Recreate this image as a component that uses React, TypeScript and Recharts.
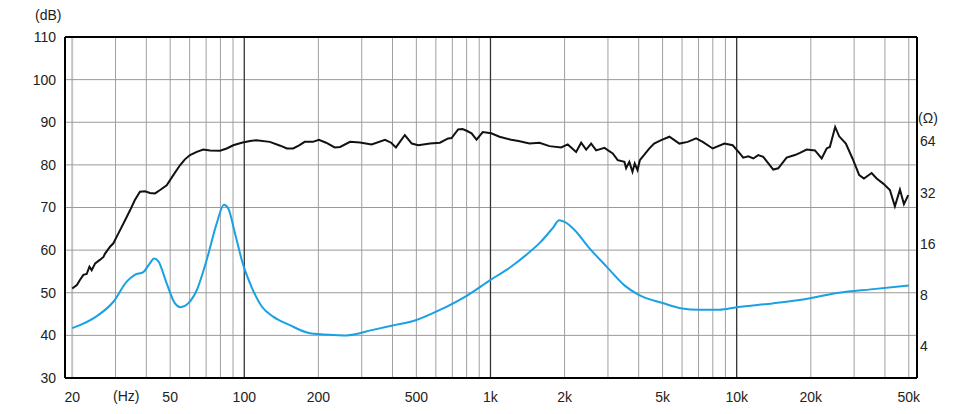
import React from "react";
import { LineChart, Line, XAxis, YAxis, ReferenceLine } from "recharts";

// frequency response (dB)
const SPL_FREQ = [
  20, 20.9, 21.5, 22.2, 22.9, 23.5, 24, 24.8, 25.9, 26.8, 27.2, 28.5, 29.4, 30.3, 31.3, 32.8, 34.4, 35.9, 37.7,
  39.5, 41.4, 43.4, 45.5, 48.4, 51.5, 54.8, 57.4, 60.2, 64.1, 68.2, 72.6, 79.7, 84.8, 90.2, 97.6, 105.5, 112,
  127, 140, 149, 158, 167, 176, 190, 201, 215, 233, 245, 269, 295, 329, 373, 395, 413, 430, 449, 479, 509,
  568, 623, 673, 695, 739, 770, 800, 838, 878, 930, 1007, 1088, 1213, 1300, 1440, 1581, 1736, 1936, 2060,
  2228, 2335, 2447, 2564, 2687, 2903, 3137, 3287, 3500, 3556, 3664, 3774, 3854, 3955, 4043, 4145, 4413, 4620,
  4933, 5331, 5852, 6326, 6842, 7278, 7990, 8915, 9633, 10256, 10630, 11150, 11680, 12230, 12820, 14080,
  14750, 15950, 17240, 18070, 19240, 20790, 22140, 23200, 23900, 25120, 26080, 27760, 29540, 31450, 32870,
  35330, 37020, 39370, 41910, 43910, 46030, 47790, 49750,
];
const SPL_DB = [
  51.0, 51.8, 53.0, 54.2, 54.4, 56.1, 55.3, 56.9, 57.7, 58.4, 59.2, 60.8, 61.6, 63.1, 64.7, 67.0, 69.4, 71.7, 73.7,
  73.8, 73.4, 73.3, 74.1, 75.2, 77.6, 79.9, 81.3, 82.3, 83.05, 83.6, 83.4, 83.3, 83.85, 84.6, 85.2, 85.6, 85.8,
  85.4, 84.5, 83.85, 83.85, 84.6, 85.4, 85.4, 85.9, 85.2, 84.1, 84.2, 85.4, 85.25, 84.8, 85.9, 85.2, 84.1, 85.5,
  87.0, 85.0, 84.6, 85.0, 85.2, 86.2, 86.3, 88.3, 88.4, 88.0, 87.4, 85.9, 87.7, 87.4, 86.6, 85.9, 85.6, 85.0,
  85.2, 84.4, 84.1, 84.8, 83.05, 85.2, 83.6, 85.0, 83.4, 84.0, 82.7, 81.1, 80.7, 79.2, 80.7, 78.4, 80.3, 78.8,
  81.1, 81.9, 83.8, 85.0, 85.8, 86.6, 85.0, 85.4, 86.2, 85.4, 83.85, 85.0, 84.6, 82.8, 81.7, 82.0, 81.5, 82.3,
  81.9, 78.9, 79.2, 81.7, 82.3, 82.8, 83.6, 83.4, 81.5, 83.85, 84.2, 88.9, 86.7, 85.0, 81.5, 77.6, 76.8, 78.1,
  76.8, 75.6, 74.1, 70.3, 74.2, 70.8, 72.9,
];

// impedance (ohm)
const IMP_FREQ = [
  20, 21.5, 25, 29.4, 33.3, 35.9, 38.9, 41.4, 43, 44.8, 48.4, 52.3, 55.1, 59.2, 64.1, 70.3, 77.3, 82.7, 86.1,
  91.7, 98.5, 107, 118, 131, 153, 185, 229, 260, 333, 400, 500, 620, 800, 1000, 1200, 1400, 1600, 1800, 1900,
  2000, 2200, 2500, 3000, 3500, 4000, 5000, 6000, 7000, 8500, 10000, 14000, 18000, 26000, 35000, 50000,
];
const IMP_OHM = [
  5.1, 5.31, 5.96, 7.29, 9.57, 10.5, 10.9, 12.3, 13.1, 12.6, 9.35, 7.13, 6.77, 7.13, 8.52, 12.8, 21.1, 27.1, 25.8,
  18.4, 12.3, 8.93, 6.81, 5.96, 5.31, 4.76, 4.65, 4.62, 4.98, 5.28, 5.69, 6.5, 7.9, 9.8, 11.6, 13.8, 16.4,
  20.0, 22.0, 21.5, 19.2, 15.3, 11.5, 9.1, 8.0, 7.16, 6.65, 6.54, 6.54, 6.77, 7.13, 7.46, 8.23, 8.62, 9.08,
];

const FREQ_TICKS = [20, 50, 100, 200, 500, 1000, 2000, 5000, 10000, 20000, 50000];
const FREQ_LABELS = ["20", "50", "100", "200", "500", "1k", "2k", "5k", "10k", "20k", "50k"];
const DB_TICKS = [30, 40, 50, 60, 70, 80, 90, 100, 110];
const OHM_TICKS = [4, 8, 16, 32, 64];
const MINOR_GRID = [
  30, 40, 50, 60, 70, 80, 90, 200, 300, 400, 500, 600, 700, 800, 900, 2000, 3000, 4000, 5000, 6000, 7000, 8000,
  9000, 20000, 30000, 40000, 50000,
];
const MAJOR_GRID = [100, 1000, 10000];
const DB_GRID = [40, 50, 60, 70, 80, 90, 100];

const FONT = "'Liberation Sans', Arial, sans-serif";

const splData = SPL_FREQ.map((f, i) => ({ f, db: SPL_DB[i] }));
const impData = IMP_FREQ.map((f, i) => ({ f, ohm: IMP_OHM[i] }));

export default function App() {
  const tick = { fontSize: 14, fill: "#222", fontFamily: FONT };
  return (
    <div style={{ position: "absolute", left: 0, top: 0, width: 980, height: 414, background: "#fff" }}>
      <LineChart width={980} height={414} margin={{ top: 37, right: 0, bottom: 0, left: 0 }} style={{ fontFamily: FONT }}>
        <XAxis
          dataKey="f"
          type="number"
          scale="log"
          domain={[18.7, 54000]}
          allowDataOverflow
          ticks={FREQ_TICKS}
          interval={0}
          tickFormatter={(v) => FREQ_LABELS[FREQ_TICKS.indexOf(v)] ?? ""}
          height={36}
          tickSize={0}
          tickMargin={14}
          tick={tick}
          axisLine={{ stroke: "#000", strokeWidth: 2 }}
          label={{ value: "(Hz)", position: "insideLeft", offset: 48, fontSize: 14, fill: "#222", fontFamily: FONT }}
        />
        <YAxis
          yAxisId="db"
          type="number"
          domain={[30, 110]}
          ticks={DB_TICKS}
          interval={0}
          width={65}
          tickSize={0}
          tickMargin={9}
          tick={tick}
          axisLine={{ stroke: "#000", strokeWidth: 2 }}
        />
        <YAxis
          yAxisId="ohm"
          orientation="right"
          type="number"
          scale="log"
          domain={[2.594, 263.5]}
          allowDataOverflow
          ticks={OHM_TICKS}
          interval={0}
          width={63}
          tickSize={0}
          tickMargin={3}
          tick={tick}
          axisLine={{ stroke: "#000", strokeWidth: 2 }}
        />

        <ReferenceLine yAxisId="db" x={20} stroke="#c4c4c4" strokeWidth={2} />
        {MINOR_GRID.map((f) => (
          <ReferenceLine key={"v" + f} yAxisId="db" x={f} stroke="#a0a0a0" strokeWidth={1} />
        ))}
        {DB_GRID.map((d) => (
          <ReferenceLine key={"h" + d} yAxisId="db" y={d} stroke="#9a9a9a" strokeWidth={1} />
        ))}
        {MAJOR_GRID.map((f) => (
          <ReferenceLine key={"m" + f} yAxisId="db" x={f} stroke="#333" strokeWidth={1.3} />
        ))}
        <ReferenceLine yAxisId="db" y={110} stroke="#000" strokeWidth={2} />

        <Line
          data={impData}
          dataKey="ohm"
          yAxisId="ohm"
          type="monotone"
          stroke="#1aa0e4"
          strokeWidth={2}
          dot={false}
          isAnimationActive={false}
        />
        <Line
          data={splData}
          dataKey="db"
          yAxisId="db"
          type="linear"
          stroke="#111"
          strokeWidth={2}
          dot={false}
          isAnimationActive={false}
        />
      </LineChart>
      <div style={{ position: "absolute", left: 35, top: 7, fontSize: 14, color: "#222", fontFamily: FONT }}>(dB)</div>
      <div style={{ position: "absolute", left: 918, top: 110, fontSize: 14, color: "#222", fontFamily: FONT }}>(Ω)</div>
    </div>
  );
}
